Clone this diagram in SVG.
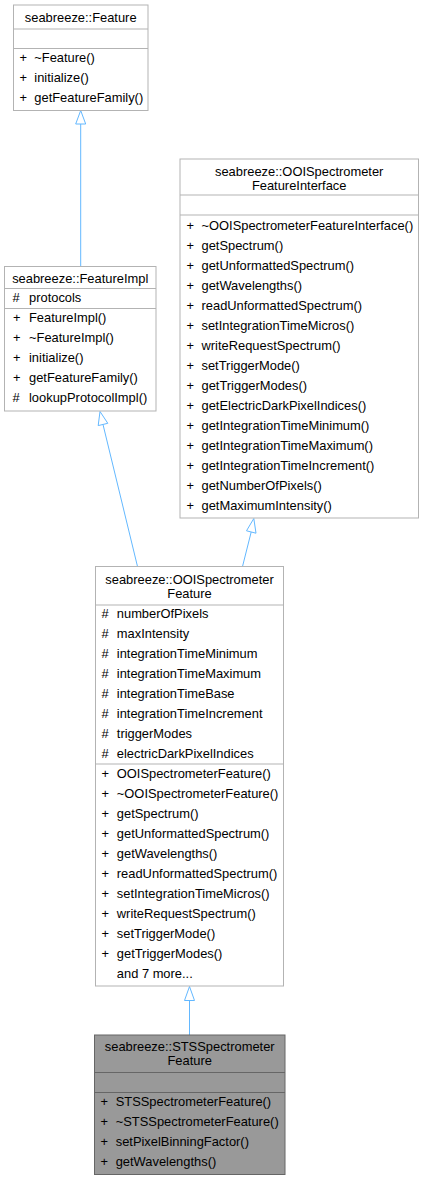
<svg xmlns="http://www.w3.org/2000/svg" width="424" height="1180" viewBox="0 0 424 1180">
<style>
text{font-family:"Liberation Sans",Arial,sans-serif;font-size:12.9px;fill:#000}
.c{text-anchor:middle}
.box{fill:#fff;stroke:#b3b3b3;stroke-width:1}
.cur{fill:#999;stroke:#666;stroke-width:1}
.sep{stroke:#b3b3b3;stroke-width:1}
.sepc{stroke:#666;stroke-width:1}
.edge{stroke:#63b8ff;stroke-width:1;fill:none}
.head{fill:#fff;stroke:#63b8ff;stroke-width:1}
</style>
<rect width="424" height="1180" fill="#fff"/>
<g id="connectors">
<line class="edge" x1="80.7" y1="124" x2="80.7" y2="266.5"/>
<polygon class="head" points="80.7,110.5 75.7,124 85.7,124"/>
<line class="edge" x1="103" y1="424.5" x2="137.5" y2="566.5"/>
<polygon class="head" points="100,411.5 98.2,425.6 107.8,423.3"/>
<line class="edge" x1="251.2" y1="532" x2="242.5" y2="566.5"/>
<polygon class="head" points="253.8,518.5 246.5,530.8 256,533.2"/>
<line class="edge" x1="189.5" y1="1000.5" x2="189.5" y2="1035"/>
<polygon class="head" points="189.5,986.5 184.5,1000.5 194.5,1000.5"/>
</g>
<g id="node-feature">
<rect class="box" x="13.5" y="5" width="134.5" height="105.5"/>
<line class="sep" x1="13.5" y1="29" x2="148" y2="29"/>
<line class="sep" x1="13.5" y1="48.5" x2="148" y2="48.5"/>
<text class="c" x="80.7" y="22">seabreeze::Feature</text>
<text x="19.5" y="62">+</text><text x="34.3" y="62">~Feature()</text>
<text x="19.5" y="82">+</text><text x="34.3" y="82">initialize()</text>
<text x="19.5" y="102">+</text><text x="34.3" y="102">getFeatureFamily()</text>
</g>
<g id="node-featureimpl">
<rect class="box" x="4.5" y="266.5" width="151.5" height="144.5"/>
<line class="sep" x1="4.5" y1="288.5" x2="156" y2="288.5"/>
<line class="sep" x1="4.5" y1="308.5" x2="156" y2="308.5"/>
<text class="c" x="80.2" y="282.5">seabreeze::FeatureImpl</text>
<text x="12.5" y="302">#</text><text x="29" y="302">protocols</text>
<text x="13" y="322">+</text><text x="29" y="322">FeatureImpl()</text>
<text x="13" y="342">+</text><text x="29" y="342">~FeatureImpl()</text>
<text x="13" y="362">+</text><text x="29" y="362">initialize()</text>
<text x="13" y="382">+</text><text x="29" y="382">getFeatureFamily()</text>
<text x="12.5" y="402">#</text><text x="29" y="402">lookupProtocolImpl()</text>
</g>
<g id="node-interface">
<rect class="box" x="180" y="159" width="238.5" height="359"/>
<line class="sep" x1="180" y1="195" x2="418.5" y2="195"/>
<line class="sep" x1="180" y1="215" x2="418.5" y2="215"/>
<text class="c" x="299.2" y="175.5">seabreeze::OOISpectrometer</text>
<text class="c" x="299.2" y="189.5">FeatureInterface</text>
<text x="186.5" y="230">+</text><text x="201.5" y="230">~OOISpectrometerFeatureInterface()</text>
<text x="186.5" y="250">+</text><text x="201.5" y="250">getSpectrum()</text>
<text x="186.5" y="270">+</text><text x="201.5" y="270">getUnformattedSpectrum()</text>
<text x="186.5" y="290">+</text><text x="201.5" y="290">getWavelengths()</text>
<text x="186.5" y="310">+</text><text x="201.5" y="310">readUnformattedSpectrum()</text>
<text x="186.5" y="330">+</text><text x="201.5" y="330">setIntegrationTimeMicros()</text>
<text x="186.5" y="350">+</text><text x="201.5" y="350">writeRequestSpectrum()</text>
<text x="186.5" y="370">+</text><text x="201.5" y="370">setTriggerMode()</text>
<text x="186.5" y="390">+</text><text x="201.5" y="390">getTriggerModes()</text>
<text x="186.5" y="410">+</text><text x="201.5" y="410">getElectricDarkPixelIndices()</text>
<text x="186.5" y="430">+</text><text x="201.5" y="430">getIntegrationTimeMinimum()</text>
<text x="186.5" y="450">+</text><text x="201.5" y="450">getIntegrationTimeMaximum()</text>
<text x="186.5" y="470">+</text><text x="201.5" y="470">getIntegrationTimeIncrement()</text>
<text x="186.5" y="490">+</text><text x="201.5" y="490">getNumberOfPixels()</text>
<text x="186.5" y="510">+</text><text x="201.5" y="510">getMaximumIntensity()</text>
</g>
<g id="node-ooifeature">
<rect class="box" x="95.5" y="566.5" width="188" height="419.5"/>
<line class="sep" x1="95.5" y1="605" x2="283.5" y2="605"/>
<line class="sep" x1="95.5" y1="764" x2="283.5" y2="764"/>
<text class="c" x="189.5" y="584">seabreeze::OOISpectrometer</text>
<text class="c" x="189.5" y="598">Feature</text>
<text x="101.5" y="618">#</text><text x="116.8" y="618">numberOfPixels</text>
<text x="101.5" y="638">#</text><text x="116.8" y="638">maxIntensity</text>
<text x="101.5" y="658">#</text><text x="116.8" y="658">integrationTimeMinimum</text>
<text x="101.5" y="678">#</text><text x="116.8" y="678">integrationTimeMaximum</text>
<text x="101.5" y="698">#</text><text x="116.8" y="698">integrationTimeBase</text>
<text x="101.5" y="718">#</text><text x="116.8" y="718">integrationTimeIncrement</text>
<text x="101.5" y="738">#</text><text x="116.8" y="738">triggerModes</text>
<text x="101.5" y="758">#</text><text x="116.8" y="758">electricDarkPixelIndices</text>
<text x="101.5" y="778">+</text><text x="116.8" y="778">OOISpectrometerFeature()</text>
<text x="101.5" y="798">+</text><text x="116.8" y="798">~OOISpectrometerFeature()</text>
<text x="101.5" y="818">+</text><text x="116.8" y="818">getSpectrum()</text>
<text x="101.5" y="838">+</text><text x="116.8" y="838">getUnformattedSpectrum()</text>
<text x="101.5" y="858">+</text><text x="116.8" y="858">getWavelengths()</text>
<text x="101.5" y="878">+</text><text x="116.8" y="878">readUnformattedSpectrum()</text>
<text x="101.5" y="898">+</text><text x="116.8" y="898">setIntegrationTimeMicros()</text>
<text x="101.5" y="918">+</text><text x="116.8" y="918">writeRequestSpectrum()</text>
<text x="101.5" y="938">+</text><text x="116.8" y="938">setTriggerMode()</text>
<text x="101.5" y="958">+</text><text x="116.8" y="958">getTriggerModes()</text>
<text x="116.8" y="978">and 7 more...</text>
</g>
<g id="node-stsfeature">
<rect class="cur" x="94.5" y="1035" width="190.5" height="139.5"/>
<line class="sepc" x1="94.5" y1="1072.5" x2="285" y2="1072.5"/>
<line class="sepc" x1="94.5" y1="1092.5" x2="285" y2="1092.5"/>
<text class="c" x="189.7" y="1051">seabreeze::STSSpectrometer</text>
<text class="c" x="189.7" y="1065">Feature</text>
<text x="100.5" y="1106">+</text><text x="115.7" y="1106">STSSpectrometerFeature()</text>
<text x="100.5" y="1126">+</text><text x="115.7" y="1126">~STSSpectrometerFeature()</text>
<text x="100.5" y="1146">+</text><text x="115.7" y="1146">setPixelBinningFactor()</text>
<text x="100.5" y="1166">+</text><text x="115.7" y="1166">getWavelengths()</text>
</g>
</svg>
